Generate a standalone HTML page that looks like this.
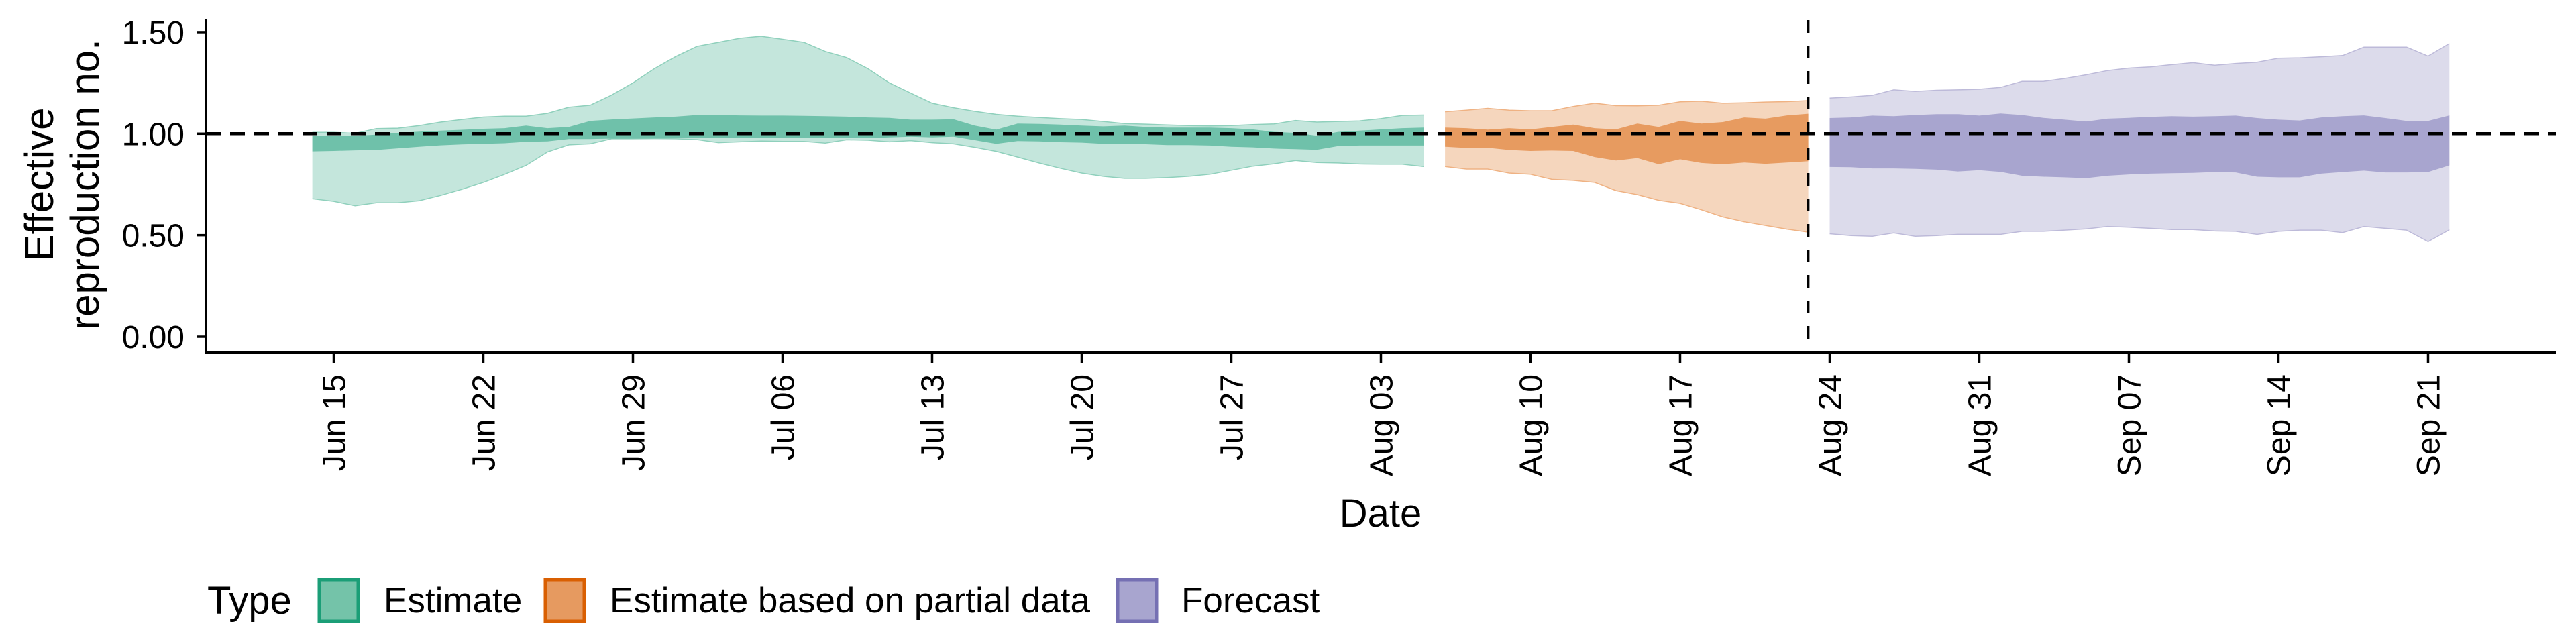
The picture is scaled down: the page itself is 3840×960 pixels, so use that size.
<!DOCTYPE html>
<html><head><meta charset="utf-8"><style>
html,body{margin:0;padding:0;background:#fff;}
svg{display:block;font-family:"Liberation Sans",Arial,sans-serif;}
</style></head><body>
<svg id="chart" width="3840" height="960" viewBox="0 0 3840 960" xmlns="http://www.w3.org/2000/svg">
<rect x="0" y="0" width="3840" height="960" fill="#fff"/>
<g id="bands"></g>
<g id="axes"></g>
<text font-size="60" text-anchor="middle" transform="translate(79,275) rotate(-90)">Effective</text>
<text font-size="60" text-anchor="middle" transform="translate(147,275) rotate(-90)">reproduction no.</text>
<text font-size="58" text-anchor="middle" x="2058" y="785">Date</text>
<g>
<text font-size="58" x="309" y="915">Type</text>
<rect x="476" y="864" width="58" height="62" fill="#74c3a9" stroke="#1b9e77" stroke-width="5"/>
<text font-size="53" x="572" y="913">Estimate</text>
<rect x="813" y="864" width="58" height="62" fill="#e69a60" stroke="#d95f02" stroke-width="5"/>
<text font-size="53" x="909" y="913">Estimate based on partial data</text>
<rect x="1666" y="864" width="58" height="62" fill="#a8a5cf" stroke="#7570b3" stroke-width="5"/>
<text font-size="53" x="1761" y="913">Forecast</text>
</g>
</svg>
<script>
const tickLabels = ["Jun 15","Jun 22","Jun 29","Jul 06","Jul 13","Jul 20","Jul 27","Aug 03","Aug 10","Aug 17","Aug 24","Aug 31","Sep 07","Sep 14","Sep 21"];
const tickDays = [0,7,14,21,28,35,42,49,56,63,70,77,84,91,98];
const yTicks = [0, 0.5, 1.0, 1.5];
const yTickLabels = ["0.00","0.50","1.00","1.50"];
const forecastStartLine = 69;
const estStart = -1;
const estUpO = [1.007,1.007,1.002,1.025,1.027,1.04,1.057,1.07,1.082,1.086,1.086,1.10,1.13,1.14,1.19,1.25,1.32,1.38,1.43,1.45,1.47,1.48,1.465,1.45,1.405,1.375,1.32,1.25,1.20,1.15,1.128,1.11,1.095,1.086,1.08,1.074,1.07,1.06,1.05,1.047,1.043,1.04,1.038,1.04,1.045,1.048,1.065,1.057,1.06,1.063,1.074,1.09,1.092];
const estUpI = [0.99,0.99,0.99,0.995,1.004,1.01,1.015,1.019,1.024,1.027,1.04,1.027,1.033,1.063,1.07,1.075,1.08,1.084,1.092,1.092,1.09,1.089,1.089,1.088,1.086,1.084,1.08,1.078,1.069,1.069,1.071,1.04,1.02,1.05,1.048,1.045,1.04,1.036,1.04,1.033,1.03,1.03,1.03,1.027,1.021,1.009,1.004,0.99,1.009,1.015,1.021,1.027,1.03];
const estLoI = [0.913,0.915,0.918,0.92,0.928,0.936,0.943,0.947,0.95,0.953,0.96,0.962,0.974,0.974,0.976,0.976,0.977,0.978,0.978,0.978,0.978,0.978,0.978,0.978,0.978,0.978,0.978,0.982,0.985,0.982,0.985,0.968,0.95,0.964,0.962,0.958,0.956,0.95,0.948,0.948,0.944,0.944,0.942,0.936,0.933,0.927,0.924,0.921,0.939,0.942,0.942,0.942,0.942];
const estLoO = [0.68,0.667,0.645,0.66,0.66,0.67,0.696,0.726,0.76,0.80,0.844,0.91,0.945,0.95,0.975,0.975,0.976,0.975,0.971,0.956,0.96,0.964,0.962,0.962,0.954,0.97,0.968,0.96,0.966,0.956,0.95,0.933,0.913,0.885,0.856,0.83,0.806,0.79,0.78,0.78,0.784,0.79,0.80,0.82,0.84,0.852,0.868,0.858,0.856,0.851,0.85,0.85,0.838];
const partStart = 52;
const partUpO = [1.108,1.116,1.125,1.116,1.113,1.113,1.134,1.15,1.138,1.137,1.14,1.157,1.16,1.15,1.152,1.156,1.158,1.163];
const partUpI = [1.03,1.027,1.02,1.027,1.021,1.033,1.045,1.027,1.021,1.05,1.033,1.063,1.05,1.057,1.08,1.074,1.09,1.098];
const partLoI = [0.936,0.93,0.931,0.92,0.915,0.917,0.915,0.885,0.868,0.88,0.85,0.874,0.856,0.85,0.858,0.852,0.858,0.865];
const partLoO = [0.838,0.826,0.826,0.806,0.80,0.775,0.77,0.76,0.72,0.70,0.672,0.657,0.625,0.59,0.566,0.548,0.53,0.515];
const fcStart = 70;
const fcUpO = [1.175,1.181,1.189,1.216,1.208,1.214,1.216,1.219,1.228,1.258,1.258,1.272,1.29,1.311,1.323,1.329,1.34,1.35,1.337,1.346,1.352,1.372,1.374,1.379,1.385,1.426,1.426,1.426,1.382,1.444];
const fcUpI = [1.077,1.08,1.089,1.086,1.092,1.096,1.096,1.089,1.099,1.092,1.078,1.069,1.06,1.074,1.078,1.083,1.086,1.084,1.086,1.089,1.077,1.069,1.065,1.08,1.086,1.09,1.077,1.063,1.063,1.09];
const fcLoI = [0.836,0.835,0.829,0.829,0.827,0.823,0.814,0.82,0.812,0.793,0.788,0.785,0.781,0.793,0.799,0.803,0.805,0.807,0.811,0.809,0.788,0.785,0.785,0.803,0.811,0.818,0.809,0.809,0.811,0.844];
const fcLoO = [0.507,0.498,0.495,0.511,0.495,0.498,0.504,0.504,0.504,0.519,0.519,0.525,0.531,0.543,0.539,0.534,0.528,0.528,0.521,0.519,0.504,0.519,0.525,0.525,0.513,0.543,0.534,0.525,0.468,0.527];

const NS = "http://www.w3.org/2000/svg";
const X0 = 497.5, DAY = 31.857, Y0 = 502, YS = 302.7;
const PL = 307, PR = 3810, PT = 20, PB = 525;
function xs(d){ return X0 + DAY*d; }
function ys(v){ return Y0 - YS*v; }
function mk(tag, attrs, parent){
  const e = document.createElementNS(NS, tag);
  for (const k in attrs) e.setAttribute(k, attrs[k]);
  parent.appendChild(e);
  return e;
}
const bands = document.getElementById('bands');
const axes = document.getElementById('axes');
function band(start, up, lo, fill, stroke, name){
  let pts = [];
  for (let i=0;i<up.length;i++) pts.push(xs(start+i).toFixed(1)+','+ys(up[i]).toFixed(1));
  for (let i=lo.length-1;i>=0;i--) pts.push(xs(start+i).toFixed(1)+','+ys(lo[i]).toFixed(1));
  const p = mk('polygon', {points: pts.join(' '), fill: fill}, bands);
  
  
  if (stroke){
    const a = [], b = [];
    for (let i=0;i<up.length;i++) a.push(xs(start+i).toFixed(1)+','+ys(up[i]).toFixed(1));
    for (let i=0;i<lo.length;i++) b.push(xs(start+i).toFixed(1)+','+ys(lo[i]).toFixed(1));
    [a,b].forEach(function(q, j){
      const l = mk('polyline', {points: q.join(' '), fill:'none', stroke: stroke, 'stroke-width': 1.5}, bands);
      
      
    });
  }
}
band(estStart, estUpO, estLoO, '#c4e6dc', '#8fd0bc', 'estimate-90-band');
band(estStart, estUpI, estLoI, '#6fc1aa', null, 'estimate-50-band');
band(partStart, partUpO, partLoO, '#f5d6bd', '#efb283', 'partial-90-band');
band(partStart, partUpI, partLoI, '#e79b60', null, 'partial-50-band');
band(fcStart, fcUpO, fcLoO, '#dcdbeb', '#bdbad9', 'forecast-90-band');
band(fcStart, fcUpI, fcLoI, '#a8a5cf', null, 'forecast-50-band');

let h = mk('line', {x1: PL, x2: PR, y1: ys(1), y2: ys(1), stroke:'#000', 'stroke-width': 4.5, 'stroke-dasharray':'22 14'}, axes);


let v = mk('line', {x1: xs(forecastStartLine), x2: xs(forecastStartLine), y1: 30, y2: PB, stroke:'#000', 'stroke-width': 3.5, 'stroke-dasharray':'19 19'}, axes);



let ya = mk('line', {x1: PL, x2: PL, y1: 28, y2: PB+2, stroke:'#000', 'stroke-width': 4}, axes);


let xa = mk('line', {x1: PL-2, x2: PR, y1: PB, y2: PB, stroke:'#000', 'stroke-width': 4}, axes);


yTicks.forEach(function(t, i){
  const tk = mk('line', {x1: PL-14, x2: PL, y1: ys(t), y2: ys(t), stroke:'#000', 'stroke-width': 3.5}, axes);
  
  
  const tx = mk('text', {x: 275, y: ys(t)+17, 'font-size': 48, 'text-anchor':'end', fill:'#000'}, axes);
  
  
  tx.textContent = yTickLabels[i];
});
tickDays.forEach(function(d, i){
  const x = xs(d);
  const tk = mk('line', {x1: x, x2: x, y1: PB, y2: PB+16, stroke:'#000', 'stroke-width': 3.5}, axes);
  
  
  const tx = mk('text', {'font-size': 48, 'text-anchor':'end', fill:'#000', transform: 'translate('+(x+17)+',558) rotate(-90)'}, axes);
  
  
  tx.textContent = tickLabels[i];
});
</script>
</body></html>
